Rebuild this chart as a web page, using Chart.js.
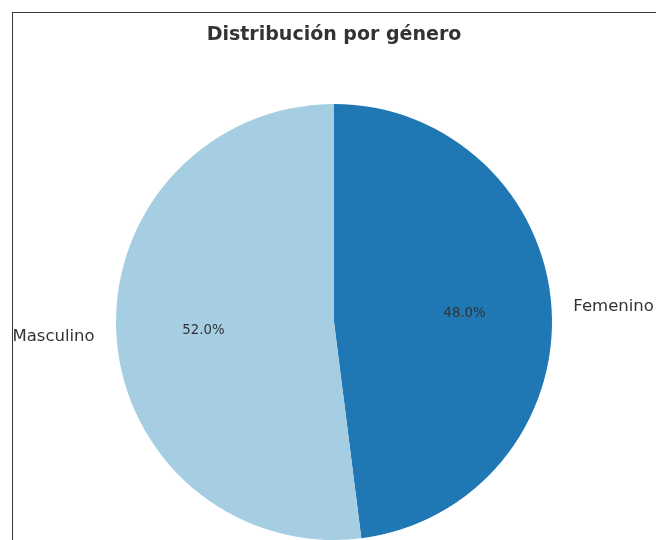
<!DOCTYPE html>
<html>
<head>
<meta charset="utf-8">
<script src="https://cdn.jsdelivr.net/npm/chart.js@4/dist/chart.umd.min.js"></script>
<style>
    html, body { margin: 0; padding: 0; background: #fff; overflow: hidden; }
    #wrap { position: relative; width: 656px; height: 540px; }
    #frame {
        position: absolute; left: 12px; top: 12px; width: 700px; height: 600px;
        border: 1px solid #3a3a3a; pointer-events: none;
    }
</style>
</head>
<body>
<div id="wrap">
    <canvas id="genderPie" width="656" height="540"></canvas>
    <div id="frame"></div>
</div>
<script>
const chartTitle = 'Distribución por género';
const categories = ['Masculino', 'Femenino'];
const shares = [52.0, 48.0];
const sliceColors = ['#a6cee3', '#1f78b4'];

// matplotlib draws counter-clockwise from the top, Chart.js clockwise -> reverse order
const labels = categories.slice().reverse();
const values = shares.slice().reverse();
const colors = sliceColors.slice().reverse();

const textPlugin = {
    id: 'pieText',
    afterDraw(chart) {
        const ctx = chart.ctx;
        const meta = chart.getDatasetMeta(0);
        ctx.save();

        // title
        ctx.fillStyle = '#333333';
        ctx.font = 'bold 19px "DejaVu Sans"';
        ctx.textAlign = 'center';
        ctx.textBaseline = 'middle';
        ctx.fillText(chartTitle, 334, 35);

        meta.data.forEach((arc, i) => {
            const mid = (arc.startAngle + arc.endAngle) / 2;
            const r = arc.outerRadius;
            const cos = Math.cos(mid), sin = Math.sin(mid);

            // outside label
            ctx.font = '16.5px "DejaVu Sans"';
            ctx.fillStyle = '#333333';
            ctx.textAlign = cos >= 0 ? 'left' : 'right';
            ctx.fillText(labels[i], arc.x + cos * r * 1.1, arc.y + sin * r * 1.1);

            // percentage
            ctx.font = '13.3px "DejaVu Sans"';
            ctx.textAlign = 'center';
            ctx.fillStyle = '#333333';
            ctx.fillText(values[i].toFixed(1) + '%', arc.x + cos * r * 0.6, arc.y + sin * r * 0.6);
        });
        ctx.restore();
    }
};

new Chart(document.getElementById('genderPie').getContext('2d'), {
    type: 'pie',
    data: {
        labels,
        datasets: [{
            data: values,
            backgroundColor: colors,
            borderWidth: 0,
            hoverOffset: 0
        }]
    },
    options: {
        responsive: false,
        animation: false,
        events: [],
        layout: { padding: { top: 104, bottom: 0, left: 116, right: 104 } },
        plugins: {
            legend: { display: false },
            tooltip: { enabled: false },
            title: { display: false }
        }
    },
    plugins: [textPlugin]
});
</script>
</body>
</html>
